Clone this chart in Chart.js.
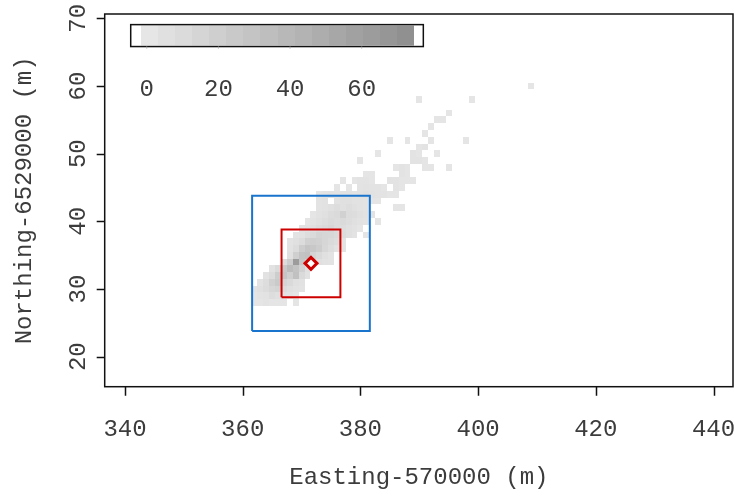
<!DOCTYPE html>
<html lang="en">
<head>
    <meta charset="UTF-8">
    <title>Easting / Northing counts</title>
    <script src="https://cdn.jsdelivr.net/npm/chart.js"></script>
    <style>
        body { margin: 0; background: #fff; }
        canvas { display: block; }
    </style>
</head>
<body>
    <canvas id="gridChart" width="734" height="497"></canvas>

    <script>
        const xTicks = [340, 360, 380, 400, 420, 440];
        const yTicks = [20, 30, 40, 50, 60, 70];
        const legendTicks = [0, 20, 40, 60];

        // one entry per northing row: [northing, first easting, counts of consecutive 1 m cells]
        const cellRows = [
            [60, 409, [2]],
            [58, 390, [2, 0, 0, 0, 0, 0, 0, 0, 0, 2]],
            [56, 395, [2]],
            [55, 393, [2, 2]],
            [54, 392, [2]],
            [53, 391, [2]],
            [52, 385, [2, 0, 0, 2, 0, 0, 0, 2, 0, 0, 0, 0, 0, 2]],
            [51, 390, [2, 3]],
            [50, 383, [2, 0, 0, 0, 0, 0, 3, 2, 0, 0, 2]],
            [49, 380, [2, 0, 0, 0, 0, 0, 0, 0, 0, 3, 3, 2]],
            [48, 386, [2, 3, 2, 0, 0, 2, 2, 0, 0, 2]],
            [47, 381, [2, 2, 0, 0, 0, 0, 3, 2]],
            [46, 377, [2, 0, 2, 3, 3, 2, 0, 0, 3, 3, 2, 2, 2]],
            [45, 376, [2, 0, 2, 0, 3, 4, 3, 3, 2, 0, 3, 2]],
            [44, 373, [2, 3, 4, 3, 4, 4, 3, 4, 6, 4, 3, 3, 2, 2]],
            [43, 373, [3, 4, 0, 4, 6, 6, 4, 4, 3, 2, 2]],
            [42, 373, [3, 4, 6, 8, 6, 8, 6, 4, 3, 0, 0, 0, 0, 2, 2]],
            [41, 372, [2, 4, 6, 9, 11, 18, 9, 8, 6, 4, 3]],
            [40, 371, [2, 3, 6, 8, 11, 9, 11, 8, 6, 4, 3, 0, 2]],
            [39, 370, [3, 4, 6, 9, 11, 13, 9, 8, 6, 4, 2]],
            [38, 369, [3, 4, 8, 11, 16, 14, 13, 11, 9, 6, 3, 0, 2]],
            [37, 368, [3, 6, 9, 18, 20, 18, 14, 11, 8, 3]],
            [36, 368, [4, 9, 22, 28, 26, 22, 13, 8, 4, 3]],
            [35, 368, [6, 20, 30, 32, 16, 11, 6, 3]],
            [34, 367, [9, 22, 62, 28, 18, 11, 6, 4, 3]],
            [33, 365, [4, 11, 26, 36, 30, 18, 6]],
            [32, 364, [4, 9, 22, 28, 20, 32, 11, 4]],
            [31, 363, [3, 8, 18, 24, 15, 11, 6, 4]],
            [30, 362, [3, 6, 9, 13, 16, 9, 6, 4, 3]],
            [29, 362, [2, 3, 4, 8, 6, 4, 3, 2]],
            [28, 362, [2, 2, 3, 2, 2, 2, 0, 2]]
        ];

        const siteX = 371.6;
        const siteY = 33.8;
        const boxHalfSizes = [5, 10];

        const legendMin = -1.6;
        const legendMax = 74.6;
        const legendSteps = 16;

        const FONT = '24px "Liberation Mono", "DejaVu Sans Mono", monospace';
        const TEXT = '#3c3c3c';

        function shade(v) {
            const g = Math.round(231 - Math.min(v, 74) * 89 / 74);
            return 'rgb(' + g + ',' + g + ',' + g + ')';
        }

        function squareAround(half) {
            return [
                { x: siteX - half, y: siteY - half },
                { x: siteX + half, y: siteY - half },
                { x: siteX + half, y: siteY + half },
                { x: siteX - half, y: siteY + half },
                { x: siteX - half, y: siteY - half }
            ];
        }

        const rasterPlugin = {
            id: 'raster',
            beforeDatasetsDraw(chart) {
                const { ctx, chartArea: a } = chart;
                const x = chart.scales.x, y = chart.scales.y;
                ctx.save();
                ctx.beginPath();
                ctx.rect(a.left, a.top, a.width, a.height);
                ctx.clip();

                cellRows.forEach(([row, first, counts]) => {
                    counts.forEach((v, i) => {
                        if (!v) return;
                        const c = first + i;
                        const l = Math.round(x.getPixelForValue(c - 0.5));
                        const r = Math.round(x.getPixelForValue(c + 0.5));
                        const t = Math.round(y.getPixelForValue(row + 0.5));
                        const b = Math.round(y.getPixelForValue(row - 0.5));
                        ctx.fillStyle = shade(v);
                        ctx.fillRect(l, t, r - l, b - t);
                    });
                });

                // colour key, laid out in plot units at the top left
                const barX0 = 342.72, barX1 = 389.11;
                const toX = v => x.getPixelForValue(barX0 + (v - legendMin) / (legendMax - legendMin) * (barX1 - barX0));
                const keyTop = y.getPixelForValue(69.07), keyBot = y.getPixelForValue(65.83);
                const stepV = (legendMax - legendMin) / legendSteps;
                for (let i = 0; i < legendSteps; i++) {
                    const v0 = legendMin + i * stepV;
                    const l = Math.round(toX(v0)), r = Math.round(toX(v0 + stepV));
                    ctx.fillStyle = shade(v0 + stepV / 2);
                    ctx.fillRect(l, keyTop + 1, r - l, keyBot - keyTop - 2);
                }
                ctx.strokeStyle = '#111';
                ctx.lineWidth = 1.5;
                const bl = x.getPixelForValue(340.97), br = x.getPixelForValue(390.69);
                ctx.strokeRect(bl, keyTop, br - bl, keyBot - keyTop);

                ctx.strokeStyle = '#aaa';
                ctx.lineWidth = 1;
                ctx.font = FONT;
                ctx.fillStyle = TEXT;
                ctx.textAlign = 'center';
                ctx.textBaseline = 'alphabetic';
                const labelY = y.getPixelForValue(59.68) + 8;
                legendTicks.forEach(v => {
                    const px = toX(v);
                    ctx.beginPath();
                    ctx.moveTo(px, keyBot);
                    ctx.lineTo(px, keyBot + 2);
                    ctx.stroke();
                    ctx.fillText(String(v), px, labelY);
                });
                ctx.restore();
            },
            afterDraw(chart) {
                const { ctx, chartArea: a } = chart;
                const x = chart.scales.x, y = chart.scales.y;
                ctx.save();
                ctx.strokeStyle = '#111';
                ctx.lineWidth = 1.5;
                ctx.strokeRect(a.left, a.top, a.width, a.height);

                // tick marks
                ctx.beginPath();
                xTicks.forEach(v => {
                    const px = Math.round(x.getPixelForValue(v)) + 0.5;
                    ctx.moveTo(px, a.bottom);
                    ctx.lineTo(px, a.bottom + 9);
                });
                yTicks.forEach(v => {
                    const py = Math.round(y.getPixelForValue(v)) + 0.5;
                    ctx.moveTo(a.left - 8, py);
                    ctx.lineTo(a.left, py);
                });
                ctx.stroke();

                ctx.font = FONT;
                ctx.fillStyle = TEXT;
                ctx.textAlign = 'center';
                ctx.textBaseline = 'alphabetic';
                xTicks.forEach(v => ctx.fillText(String(v), x.getPixelForValue(v), 436));
                ctx.fillText('Easting-570000 (m)', (a.left + a.right) / 2, 484);

                yTicks.forEach(v => {
                    ctx.save();
                    ctx.translate(85, y.getPixelForValue(v));
                    ctx.rotate(-Math.PI / 2);
                    ctx.fillText(String(v), 0, 0);
                    ctx.restore();
                });
                ctx.translate(31, (a.top + a.bottom) / 2);
                ctx.rotate(-Math.PI / 2);
                ctx.fillText('Northing-6529000 (m)', 0, 0);
                ctx.restore();
            }
        };

        new Chart(document.getElementById('gridChart'), {
            type: 'scatter',
            data: {
                datasets: [
                    {
                        type: 'line',
                        data: squareAround(boxHalfSizes[1]),
                        borderColor: '#1874CD',
                        borderWidth: 2,
                        pointRadius: 0,
                        tension: 0,
                        fill: false
                    },
                    {
                        type: 'line',
                        data: squareAround(boxHalfSizes[0]),
                        borderColor: '#CD0000',
                        borderWidth: 2,
                        pointRadius: 0,
                        tension: 0,
                        fill: false
                    },
                    {
                        data: [{ x: siteX, y: siteY }],
                        pointStyle: 'rectRot',
                        radius: 6,
                        borderWidth: 3,
                        borderColor: '#CD0000',
                        backgroundColor: '#fff'
                    }
                ]
            },
            options: {
                responsive: false,
                animation: false,
                layout: { autoPadding: false, padding: { top: 14, right: 1, left: 0, bottom: 0 } },
                plugins: { legend: { display: false }, tooltip: { enabled: false } },
                scales: {
                    x: {
                        type: 'linear',
                        min: 336.55,
                        max: 443.31,
                        afterBuildTicks: s => { s.ticks = xTicks.map(v => ({ value: v })); },
                        afterFit: s => { s.height = 110.3; },
                        ticks: { display: false },
                        grid: { display: false },
                        border: { display: false }
                    },
                    y: {
                        type: 'linear',
                        min: 15.57,
                        max: 70.64,
                        afterBuildTicks: s => { s.ticks = yTicks.map(v => ({ value: v })); },
                        afterFit: s => { s.width = 104.7; },
                        ticks: { display: false },
                        grid: { display: false },
                        border: { display: false }
                    }
                }
            },
            plugins: [rasterPlugin]
        });
    </script>
</body>
</html>
